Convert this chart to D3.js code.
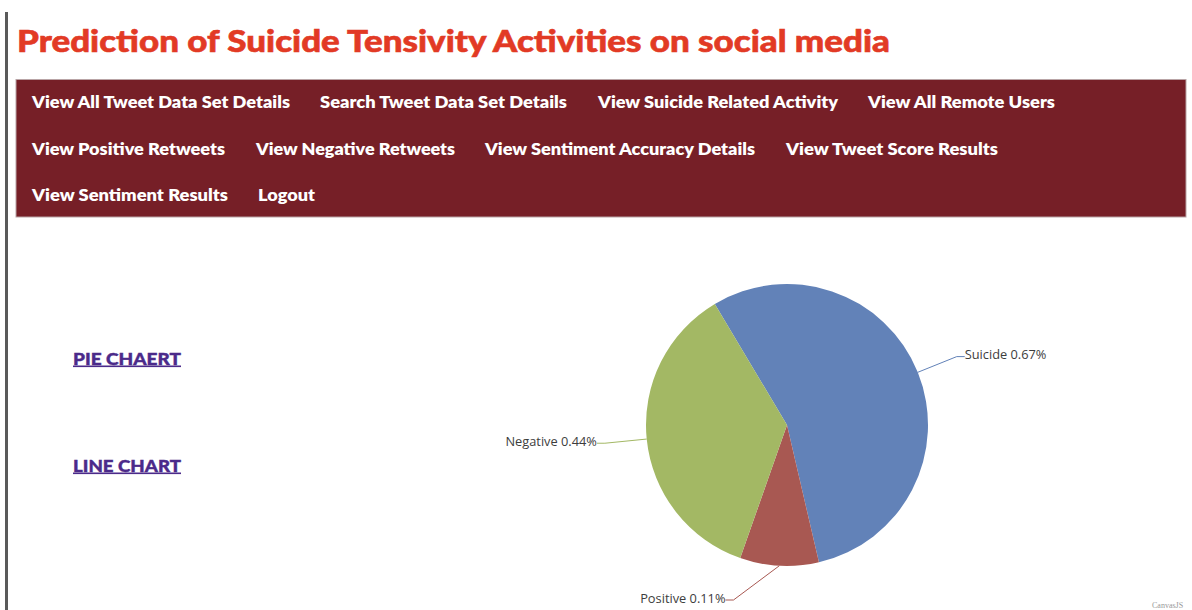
<!DOCTYPE html>
<html><head><meta charset="utf-8">
<script src="https://cdnjs.cloudflare.com/ajax/libs/d3/7.8.5/d3.min.js"></script>
<style>
html,body{margin:0;padding:0;background:#fff;overflow:hidden}
svg{display:block}
</style></head>
<body>
<svg id="c" width="1192" height="610"></svg>
<script>
// ---- data ----
const titleText = "Prediction of Suicide Tensivity Activities on social media";
const navRows = [
  ["View All Tweet Data Set Details", "Search Tweet Data Set Details", "View Suicide Related Activity", "View All Remote Users"],
  ["View Positive Retweets", "View Negative Retweets", "View Sentiment Accuracy Details", "View Tweet Score Results"],
  ["View Sentiment Results", "Logout"]
];
const navStarts = [[32, 320, 598, 868],[32, 256, 485, 786],[32, 258]];
const navEnds   = [[290, 567, 838, 1055],[225, 455, 755, 998],[228, 315]];
const sideLinks = ["PIE CHAERT", "LINE CHART"];
const categories = ["Suicide", "Positive", "Negative"];
const values = [0.67, 0.11, 0.44];
const colors = ["#6282b8", "#a85852", "#a3b864"];

const svg = d3.select("#c");

// left page border
svg.append("rect").attr("x",5).attr("y",12).attr("width",3).attr("height",598).attr("fill","#5a5a5a");

// title
svg.append("text").attr("x",17).attr("y",52)
  .attr("font-family","Lato").attr("font-weight",900).attr("font-size",30)
  .attr("fill","#e23a25").attr("stroke","#e23a25").attr("stroke-width",0.6)
  .attr("textLength",873).attr("lengthAdjust","spacingAndGlyphs")
  .text(titleText);

// nav bar
svg.append("rect").attr("x",16).attr("y",79.5).attr("width",1170).attr("height",137.5)
  .attr("fill","#761f27").attr("stroke","#b9a4a6").attr("stroke-width",1);
const rowBase = [108, 154.5, 200.5];
navRows.forEach((row, ri) => {
  row.forEach((t, i) => {
    svg.append("text").attr("x", navStarts[ri][i]).attr("y", rowBase[ri])
      .attr("font-family","Lato").attr("font-weight",800).attr("font-size",16)
      .attr("fill","#fff")
      .attr("textLength", navEnds[ri][i]-navStarts[ri][i]).attr("lengthAdjust","spacingAndGlyphs")
      .text(t);
  });
});

// side links
const linkY = [364.5, 471.5];
sideLinks.forEach((t,i) => {
  svg.append("text").attr("x",73).attr("y",linkY[i])
    .attr("font-family","Lato").attr("font-weight",900).attr("font-size",17)
    .attr("fill","#4b2a8a").attr("stroke","#4b2a8a").attr("stroke-width",0.4)
    .attr("textLength",108).attr("lengthAdjust","spacingAndGlyphs")
    .text(t);
  svg.append("rect").attr("x",73).attr("y",linkY[i]+1).attr("width",108).attr("height",1.6).attr("fill","#4b2a8a");
});

// pie
const cx = 787, cy = 425, R = 141, Rl = 183, bottomLimit = 600;
const data = categories.map((c,i)=>({name:c, value:values[i], color:colors[i]}));
const start = -30.8 * Math.PI/180;
const pie = d3.pie().value(d=>d.value).sort(null).startAngle(start).endAngle(start + 2*Math.PI);
const arc = d3.arc().innerRadius(0).outerRadius(R);
const g = svg.append("g").attr("transform",`translate(${cx},${cy})`);
const arcs = pie(data);
g.selectAll("path.slice").data(arcs).join("path").attr("class","slice")
  .attr("d",arc).attr("fill",d=>d.data.color);

arcs.forEach(a => {
  const m = (a.startAngle + a.endAngle)/2;
  const px = R*Math.sin(m), py = -R*Math.cos(m);
  let lx = Rl*Math.sin(m), ly = -Rl*Math.cos(m);
  const right = lx >= 0;
  if (cy + ly > bottomLimit) {
    ly = bottomLimit - cy;
    lx = (right?1:-1)*Math.sqrt(Math.max(0, Rl*Rl - ly*ly));
  }
  const tx = lx + (right ? 8 : -8);
  g.append("polyline")
    .attr("points", `${px},${py} ${lx},${ly} ${tx},${ly}`)
    .attr("fill","none").attr("stroke", a.data.color).attr("stroke-width",1);
  g.append("text").attr("x", tx).attr("y", ly + 2.5)
    .attr("text-anchor", right ? "start" : "end")
    .attr("font-family","Open Sans, DejaVu Sans").attr("font-size",12.8)
    .attr("fill","#3d3d3d")
    .text(`${a.data.name} ${a.data.value}%`);
});

// watermark
svg.append("text").attr("x",1152).attr("y",608).attr("font-family","Liberation Serif")
  .attr("font-size",8).attr("fill","#999").text("CanvasJS");
</script>
</body></html>
